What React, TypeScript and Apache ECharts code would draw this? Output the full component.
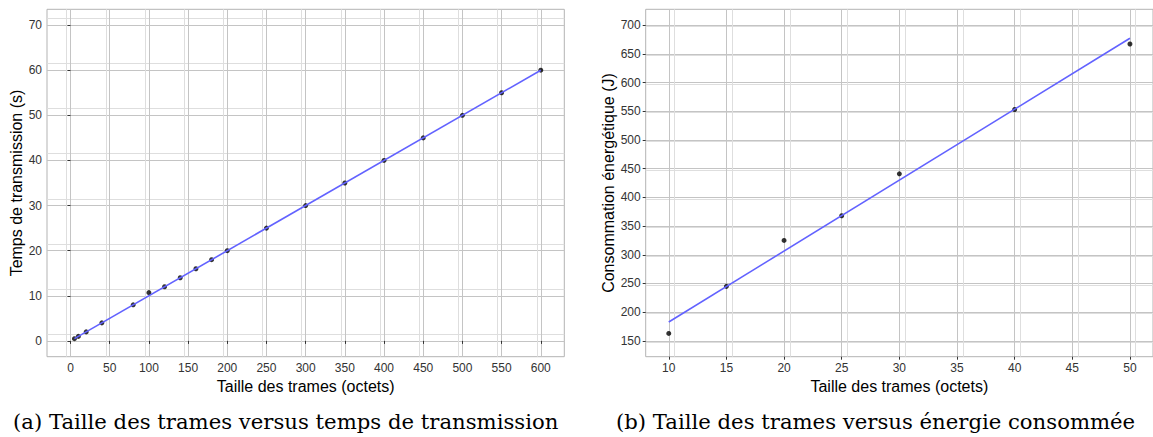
import React, { useEffect, useRef } from "react";
import * as echarts from "echarts";

// ---- Data (a): frame size vs transmission time ----
const sizesA = [5, 10, 20, 40, 80, 100, 120, 140, 160, 180, 200, 250, 300, 350, 400, 450, 500, 550, 600];
const timesA = [0.5, 1, 2, 4, 8, 10.7, 12, 14, 16, 18, 20, 25, 30, 35, 40, 45, 50, 55, 60];
const fitA = [
  [5, 0.5],
  [600, 60],
];
const xTicksA = [0, 50, 100, 150, 200, 250, 300, 350, 400, 450, 500, 550, 600];
const yTicksA = [0, 10, 20, 30, 40, 50, 60, 70];

// ---- Data (b): frame size vs energy consumed ----
const sizesB = [10, 15, 20, 25, 30, 40, 50];
const energyB = [163, 245, 325, 368, 441, 553, 667];
const fitB = [
  [10, 183],
  [50, 677],
];
const xTicksB = [10, 15, 20, 25, 30, 35, 40, 45, 50];
const yTicksB = [150, 200, 250, 300, 350, 400, 450, 500, 550, 600, 650, 700];

const xTitle = "Taille des trames (octets)";
const yTitleA = "Temps de transmission (s)";
const yTitleB = "Consommation énergétique (J)";
const captionA = "(a) Taille des trames versus temps de transmission";
const captionB = "(b) Taille des trames versus énergie consommée";

const SANS = "Liberation Sans, Arial, sans-serif";
const SERIF = "DejaVu Serif, serif";

function axisBase(ticks: number[]) {
  return {
    type: "value" as const,
    axisLine: { show: false },
    axisTick: { show: true, length: 3, customValues: ticks, lineStyle: { color: "#333333", width: 1 } },
    axisLabel: {
      customValues: ticks,
      color: "#333333",
      fontSize: 12,
      fontFamily: SANS,
      margin: 5,
    },
    splitLine: { show: true, lineStyle: { color: "#c4c4c4", width: 1 } },
    minorTick: { show: false, splitNumber: 2 },
    minorSplitLine: { show: true, lineStyle: { color: "#dedede", width: 1 } },
    nameLocation: "middle" as const,
    nameTextStyle: { color: "#000000", fontSize: 16, fontFamily: SANS },
  };
}

export default function App() {
  const ref = useRef<HTMLDivElement>(null);

  useEffect(() => {
    document.body.style.margin = "0";
    const chart = echarts.init(ref.current!, null, { renderer: "svg" });
    const option = {
      animation: false,
      backgroundColor: "#ffffff",
      grid: [
        { left: 47, top: 9.3, width: 517.3, height: 347.4, show: true, borderColor: "#b3b3b3", borderWidth: 1 },
        { left: 645.7, top: 9.3, width: 510.7, height: 347.4, show: true, borderColor: "#b3b3b3", borderWidth: 1 },
      ],
      xAxis: [
        { ...axisBase(xTicksA), gridIndex: 0, min: -30, max: 630, interval: 50, name: xTitle, nameGap: 14 },
        { ...axisBase(xTicksB), gridIndex: 1, min: 8, max: 52, interval: 5, name: xTitle, nameGap: 14 },
      ],
      yAxis: [
        { ...axisBase(yTicksA), gridIndex: 0, min: -3.5, max: 73.5, interval: 10, name: yTitleA, nameGap: 21 },
        { ...axisBase(yTicksB), gridIndex: 1, min: 122.5, max: 727.5, interval: 50, name: yTitleB, nameGap: 27.5 },
      ],
      series: [
        {
          type: "scatter",
          xAxisIndex: 0,
          yAxisIndex: 0,
          data: sizesA.map((x, i) => [x, timesA[i]]),
          symbol: "circle",
          symbolSize: 5,
          itemStyle: { color: "#000000" },
          z: 2,
        },
        {
          type: "line",
          xAxisIndex: 0,
          yAxisIndex: 0,
          data: fitA,
          showSymbol: false,
          lineStyle: { color: "#6262ff", width: 1.6 },
          z: 3,
        },
        {
          type: "scatter",
          xAxisIndex: 1,
          yAxisIndex: 1,
          data: sizesB.map((x, i) => [x, energyB[i]]),
          symbol: "circle",
          symbolSize: 5,
          itemStyle: { color: "#000000" },
          z: 2,
        },
        {
          type: "line",
          xAxisIndex: 1,
          yAxisIndex: 1,
          data: fitB,
          showSymbol: false,
          lineStyle: { color: "#6262ff", width: 1.6 },
          z: 3,
        },
      ],
      graphic: [
        {
          type: "text",
          left: 13,
          top: 411,
          style: { text: captionA, fontSize: 21.2, fontFamily: SERIF, fill: "#000000" },
        },
        {
          type: "text",
          left: 616,
          top: 411,
          style: { text: captionB, fontSize: 21.2, fontFamily: SERIF, fill: "#000000" },
        },
      ],
    };
    chart.setOption(option as any);
    return () => chart.dispose();
  }, []);

  return (
    <div
      ref={ref}
      style={{ position: "absolute", left: 0, top: 0, width: 1153, height: 437, overflow: "hidden" }}
    />
  );
}
